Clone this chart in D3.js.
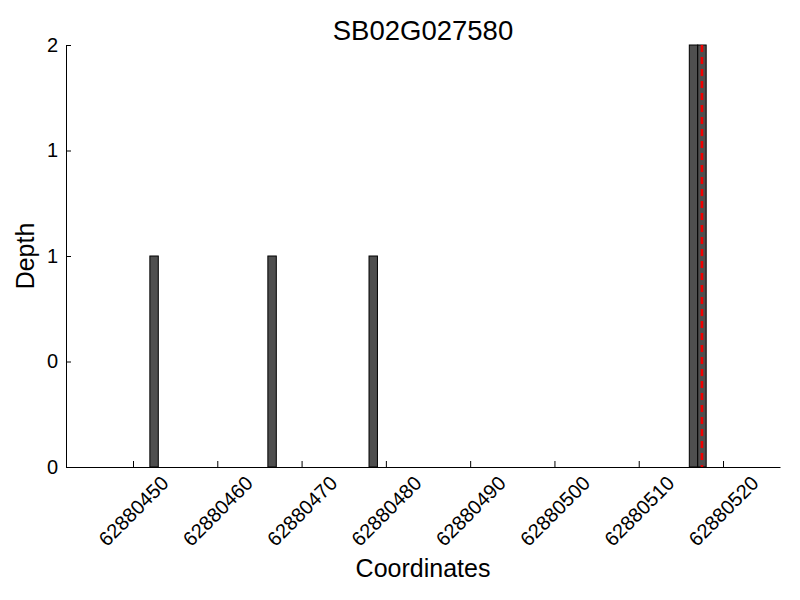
<!DOCTYPE html>
<html><head><meta charset="utf-8">
<script src="https://cdn.jsdelivr.net/npm/d3@7"></script>
<style>body{margin:0;background:#fff}svg{display:block}text{font-family:"Liberation Sans",Arial,sans-serif}</style>
</head><body>
<svg id="c" width="800" height="600"></svg>
<script>
const title = "SB02G027580";
const positions = [62880452, 62880466, 62880478, 62880516, 62880517];
const depths = [1, 1, 1, 2, 2];
const markerPos = [62880517.5];
const xTicks = [62880450, 62880460, 62880470, 62880480, 62880490, 62880500, 62880510, 62880520];
const yTicks = [0, 0.5, 1, 1.5, 2];

const svg = d3.select("#c");
const L = 66, R = 780, T = 45, B = 467;
const x = d3.scaleLinear().domain([62880442.05, 62880526.76]).range([L, R]);
const y = d3.scaleLinear().domain([0, 2]).range([B, T]);

svg.append("g").selectAll("rect").data(positions).join("rect")
  .attr("x", d => x(d)).attr("width", d => x(d + 1) - x(d))
  .attr("y", (d, i) => y(depths[i])).attr("height", (d, i) => y(0) - y(depths[i]))
  .attr("fill", "#4f4f4f").attr("stroke", "#000").attr("stroke-width", 1);

svg.append("g").selectAll("line").data(markerPos).join("line")
  .attr("x1", d => x(d)).attr("x2", d => x(d)).attr("y1", y(2)).attr("y2", y(0))
  .attr("stroke", "#f00000").attr("stroke-width", 2.6).attr("stroke-dasharray", "7,5");

const xa = svg.append("g").attr("transform", `translate(0,${B})`)
  .call(d3.axisBottom(x).tickValues(xTicks).tickSizeInner(-6).tickSizeOuter(0).tickFormat(d3.format("d")));
xa.select(".domain").attr("stroke", "#000");
xa.selectAll(".tick line").attr("stroke", "#000");
xa.selectAll(".tick text").attr("font-size", 20).attr("fill", "#000")
  .attr("text-anchor", "middle").attr("dy", "0.35em").attr("y", 0)
  .attr("transform", "translate(0,44) rotate(-45)");

const ya = svg.append("g").attr("transform", `translate(${L},0)`)
  .call(d3.axisLeft(y).tickValues(yTicks).tickSizeInner(-5).tickSizeOuter(0).tickPadding(8)
    .tickFormat(d => String(Math.floor(d))));
ya.select(".domain").attr("stroke", "#000");
ya.selectAll(".tick line").attr("stroke", "#000");
ya.selectAll(".tick text").attr("font-size", 20).attr("fill", "#000");

svg.append("text").attr("x", (L + R) / 2).attr("y", 40).attr("text-anchor", "middle")
  .attr("font-size", 27.5).text(title);
svg.append("text").attr("x", (L + R) / 2).attr("y", 577).attr("text-anchor", "middle")
  .attr("font-size", 25).text("Coordinates");
svg.append("text").attr("transform", `translate(34,${(T + B) / 2}) rotate(-90)`)
  .attr("text-anchor", "middle").attr("font-size", 25).text("Depth");
</script>
</body></html>
